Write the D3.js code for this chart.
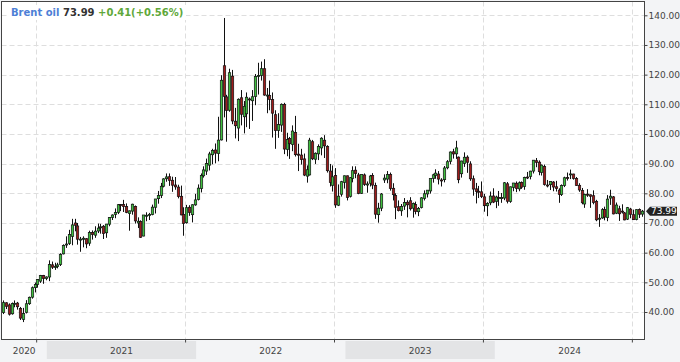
<!DOCTYPE html>
<html>
<head>
<meta charset="utf-8">
<script src="https://cdn.jsdelivr.net/npm/d3@7"></script>
<style>
  html, body { margin: 0; padding: 0; background: #f3f4f6; }
  svg { display: block; font-family: "DejaVu Sans", Verdana, sans-serif; }
</style>
</head>
<body>
<svg id="chart" width="680" height="362"></svg>
<script>
//---- Data (weekly candles: week start, open, high, low, close) ----------------------------------
var ohlc2020 = [
  ["2020-09-14", 39.8, 43.9, 39.3, 43.15], ["2020-09-21", 43.1, 43.3, 41.0, 41.92],
  ["2020-09-28", 42.4, 42.9, 38.8, 39.27], ["2020-10-05", 39.4, 43.2, 39.1, 42.85],
  ["2020-10-12", 42.7, 43.9, 41.6, 42.93], ["2020-10-19", 43.0, 43.4, 40.8, 41.77],
  ["2020-10-26", 41.2, 41.7, 37.3, 37.94], ["2020-11-02", 37.5, 41.4, 36.6, 39.45],
  ["2020-11-09", 39.9, 44.0, 39.5, 42.78], ["2020-11-16", 42.8, 45.2, 42.4, 44.96],
  ["2020-11-23", 45.0, 48.6, 44.5, 48.18], ["2020-11-30", 48.2, 49.9, 46.6, 49.25],
  ["2020-12-07", 49.3, 51.1, 48.2, 50.97], ["2020-12-14", 50.4, 52.5, 49.8, 52.26],
  ["2020-12-21", 52.3, 52.5, 49.5, 51.29], ["2020-12-28", 51.3, 52.0, 50.7, 51.80]
];
var ohlc2021 = [
  ["2021-01-04", 51.8, 57.4, 50.4, 55.99], ["2021-01-11", 55.9, 57.0, 54.5, 55.10],
  ["2021-01-18", 55.0, 56.6, 54.2, 55.41], ["2021-01-25", 55.3, 56.6, 54.7, 55.88],
  ["2021-02-01", 56.0, 59.8, 55.5, 59.34], ["2021-02-08", 59.6, 62.8, 59.4, 62.43],
  ["2021-02-15", 62.8, 65.5, 61.6, 62.91], ["2021-02-22", 63.1, 67.7, 62.6, 66.13],
  ["2021-03-01", 65.5, 71.4, 62.5, 69.36], ["2021-03-08", 70.0, 71.4, 67.2, 69.22],
  ["2021-03-15", 69.0, 70.0, 62.7, 64.53], ["2021-03-22", 64.4, 65.3, 60.3, 64.57],
  ["2021-03-29", 64.5, 65.5, 61.8, 64.86], ["2021-04-05", 64.7, 64.9, 61.5, 62.95],
  ["2021-04-12", 63.2, 67.4, 62.3, 66.77], ["2021-04-19", 66.8, 67.5, 64.4, 66.11],
  ["2021-04-26", 65.9, 68.9, 65.0, 67.25], ["2021-05-03", 67.3, 69.8, 66.6, 68.28],
  ["2021-05-10", 68.4, 69.7, 66.4, 68.71], ["2021-05-17", 68.9, 69.3, 64.6, 66.44],
  ["2021-05-24", 66.7, 69.6, 65.0, 69.63], ["2021-05-31", 69.6, 72.0, 68.9, 71.89],
  ["2021-06-07", 71.9, 72.9, 71.0, 72.69], ["2021-06-14", 72.9, 74.9, 71.6, 73.51],
  ["2021-06-21", 73.6, 76.4, 73.0, 76.18], ["2021-06-28", 76.2, 76.4, 74.0, 76.17],
  ["2021-07-05", 76.2, 77.8, 73.7, 75.55], ["2021-07-12", 75.6, 76.6, 73.3, 73.59],
  ["2021-07-19", 73.2, 74.2, 67.4, 74.10], ["2021-07-26", 74.0, 76.5, 72.8, 76.33],
  ["2021-08-02", 75.6, 75.9, 69.8, 70.70], ["2021-08-09", 70.0, 71.9, 68.3, 70.59],
  ["2021-08-16", 70.5, 70.9, 65.0, 65.18], ["2021-08-23", 65.6, 72.3, 65.5, 72.70],
  ["2021-08-30", 72.6, 73.6, 70.6, 72.61], ["2021-09-06", 72.5, 73.4, 71.0, 72.92],
  ["2021-09-13", 72.9, 76.2, 72.6, 75.34], ["2021-09-20", 75.3, 78.1, 73.2, 78.09],
  ["2021-09-27", 78.2, 80.8, 76.5, 79.28], ["2021-10-04", 79.3, 83.5, 78.4, 82.39],
  ["2021-10-11", 82.4, 85.1, 82.0, 84.86], ["2021-10-18", 84.9, 86.7, 83.9, 85.53],
  ["2021-10-25", 85.6, 86.7, 82.5, 84.38], ["2021-11-01", 84.4, 85.6, 80.5, 82.74],
  ["2021-11-08", 82.8, 85.5, 81.2, 82.17], ["2021-11-15", 82.1, 82.9, 78.3, 78.89],
  ["2021-11-22", 79.0, 82.6, 72.6, 72.72], ["2021-11-29", 72.9, 75.3, 65.7, 69.88],
  ["2021-12-06", 70.1, 76.1, 69.8, 75.15], ["2021-12-13", 75.3, 76.0, 72.4, 73.52],
  ["2021-12-20", 72.8, 76.3, 70.2, 76.14], ["2021-12-27", 76.1, 79.8, 75.8, 77.78]
];
var ohlc2022 = [
  ["2022-01-03", 77.9, 83.0, 77.6, 81.75], ["2022-01-10", 81.6, 86.7, 80.3, 86.06],
  ["2022-01-17", 85.9, 89.1, 85.3, 87.89], ["2022-01-24", 87.5, 91.7, 86.2, 90.03],
  ["2022-01-31", 89.5, 94.0, 87.7, 93.27], ["2022-02-07", 93.0, 95.0, 89.8, 94.44],
  ["2022-02-14", 94.6, 96.8, 90.1, 93.54], ["2022-02-21", 93.4, 105.8, 90.8, 97.93],
  ["2022-02-28", 98.0, 119.8, 97.8, 118.11], ["2022-03-07", 123.0, 139.1, 105.6, 112.67],
  ["2022-03-14", 112.5, 113.2, 97.4, 107.93], ["2022-03-21", 108.0, 122.0, 107.5, 120.65],
  ["2022-03-28", 119.5, 121.6, 103.3, 104.39], ["2022-04-04", 104.3, 108.8, 98.5, 102.78],
  ["2022-04-11", 102.0, 112.0, 97.6, 111.70], ["2022-04-18", 112.2, 114.8, 102.9, 106.65],
  ["2022-04-25", 105.8, 111.1, 100.2, 109.34], ["2022-05-02", 106.8, 114.0, 102.3, 112.39],
  ["2022-05-09", 111.8, 112.3, 101.7, 111.55], ["2022-05-16", 111.2, 114.8, 104.4, 112.55],
  ["2022-05-23", 112.6, 120.2, 109.7, 119.43], ["2022-05-30", 119.4, 124.0, 113.3, 119.72],
  ["2022-06-06", 119.7, 124.4, 118.0, 122.01], ["2022-06-13", 122.0, 125.2, 112.9, 113.12],
  ["2022-06-20", 113.0, 115.5, 107.0, 113.12], ["2022-06-27", 113.0, 118.0, 108.0, 111.63],
  ["2022-07-04", 111.6, 114.0, 98.8, 107.02], ["2022-07-11", 106.5, 108.0, 95.0, 101.16],
  ["2022-07-18", 101.2, 107.0, 98.7, 103.20], ["2022-07-25", 103.0, 110.3, 100.7, 110.01],
  ["2022-08-01", 110.0, 110.5, 93.2, 94.92], ["2022-08-08", 94.8, 100.4, 92.5, 98.15],
  ["2022-08-15", 98.5, 99.0, 91.6, 96.72], ["2022-08-22", 96.5, 102.9, 94.2, 100.99],
  ["2022-08-29", 100.5, 106.1, 92.4, 93.02], ["2022-09-05", 93.2, 96.7, 87.5, 92.84],
  ["2022-09-12", 92.9, 95.0, 89.7, 91.35], ["2022-09-19", 91.6, 93.4, 85.8, 86.15],
  ["2022-09-26", 85.8, 89.4, 83.6, 87.96], ["2022-10-03", 86.2, 98.7, 86.0, 97.92],
  ["2022-10-10", 97.4, 98.0, 91.2, 91.63], ["2022-10-17", 91.5, 93.8, 89.9, 93.50],
  ["2022-10-24", 93.3, 96.5, 91.2, 95.77], ["2022-10-31", 95.3, 98.9, 92.8, 98.57],
  ["2022-11-07", 97.9, 99.6, 91.9, 95.99], ["2022-11-14", 95.8, 96.2, 87.0, 87.62],
  ["2022-11-21", 87.5, 89.9, 82.3, 83.63], ["2022-11-28", 82.7, 89.4, 80.6, 85.57],
  ["2022-12-05", 86.0, 88.5, 75.1, 76.10], ["2022-12-12", 76.0, 83.0, 75.7, 79.04],
  ["2022-12-19", 79.7, 84.2, 78.9, 83.92], ["2022-12-26", 83.7, 86.0, 81.6, 85.91]
];
var ohlc2023 = [
  ["2023-01-02", 85.9, 86.0, 77.6, 78.57], ["2023-01-09", 79.0, 85.5, 78.6, 85.28],
  ["2023-01-16", 85.0, 89.1, 83.7, 87.63], ["2023-01-23", 87.8, 89.1, 85.1, 86.66],
  ["2023-01-30", 86.2, 86.9, 79.7, 79.94], ["2023-02-06", 80.0, 86.4, 79.8, 86.39],
  ["2023-02-13", 86.2, 86.7, 82.5, 83.00], ["2023-02-20", 82.8, 84.0, 80.2, 83.16],
  ["2023-02-27", 83.4, 86.2, 82.3, 85.83], ["2023-03-06", 86.0, 86.8, 81.4, 82.78],
  ["2023-03-13", 82.6, 83.6, 71.4, 72.97], ["2023-03-20", 72.8, 76.8, 70.1, 74.99],
  ["2023-03-27", 75.0, 80.1, 74.0, 79.77], ["2023-04-03", 84.5, 86.4, 83.5, 85.12],
  ["2023-04-10", 84.8, 87.5, 83.4, 86.31], ["2023-04-17", 86.3, 87.0, 80.9, 81.66],
  ["2023-04-24", 81.7, 83.4, 77.6, 79.54], ["2023-05-01", 79.3, 80.0, 71.3, 75.30],
  ["2023-05-08", 75.5, 77.6, 73.9, 74.17], ["2023-05-15", 74.1, 76.4, 72.4, 75.58],
  ["2023-05-22", 75.7, 78.4, 74.4, 76.95], ["2023-05-29", 77.0, 77.7, 71.9, 76.13],
  ["2023-06-05", 77.5, 78.7, 74.2, 74.79], ["2023-06-12", 75.0, 76.9, 71.8, 76.61],
  ["2023-06-19", 76.2, 77.2, 72.9, 73.85], ["2023-06-26", 73.8, 75.4, 72.3, 74.90],
  ["2023-07-03", 75.2, 78.7, 74.9, 78.47], ["2023-07-10", 78.3, 81.0, 77.6, 79.87],
  ["2023-07-17", 79.8, 81.1, 78.6, 81.07], ["2023-07-24", 80.8, 85.0, 79.9, 84.99],
  ["2023-07-31", 85.0, 86.6, 83.6, 86.24], ["2023-08-07", 86.0, 88.1, 84.9, 86.81],
  ["2023-08-14", 86.5, 87.5, 83.0, 84.80], ["2023-08-21", 84.5, 85.1, 82.3, 84.48],
  ["2023-08-28", 84.6, 89.2, 83.7, 88.55], ["2023-09-04", 88.6, 91.2, 88.1, 90.65],
  ["2023-09-11", 90.8, 94.1, 89.8, 93.93], ["2023-09-18", 94.0, 95.0, 91.7, 93.27],
  ["2023-09-25", 93.3, 97.7, 91.6, 95.31], ["2023-10-02", 92.2, 92.4, 83.4, 84.58],
  ["2023-10-09", 86.6, 91.0, 85.3, 90.89], ["2023-10-16", 90.1, 93.8, 88.9, 92.16],
  ["2023-10-23", 92.2, 92.8, 86.9, 90.48], ["2023-10-30", 89.9, 90.8, 84.2, 84.89],
  ["2023-11-06", 84.9, 86.0, 79.2, 81.43], ["2023-11-13", 81.5, 83.5, 76.6, 80.61],
  ["2023-11-20", 80.7, 82.5, 78.4, 80.58], ["2023-11-27", 80.5, 84.0, 78.4, 78.88],
  ["2023-12-04", 78.8, 79.8, 73.8, 75.84], ["2023-12-11", 75.8, 77.0, 72.3, 76.55],
  ["2023-12-18", 76.8, 80.6, 76.0, 79.07], ["2023-12-25", 79.1, 81.7, 76.7, 77.04]
];
var ohlc2024 = [
  ["2024-01-01", 77.3, 79.2, 75.0, 78.76], ["2024-01-08", 78.6, 80.8, 75.8, 78.29],
  ["2024-01-15", 78.2, 80.1, 76.8, 78.56], ["2024-01-22", 78.4, 83.8, 77.7, 83.55],
  ["2024-01-29", 83.2, 83.8, 76.6, 77.33], ["2024-02-05", 77.3, 82.3, 76.8, 82.19],
  ["2024-02-12", 82.0, 83.5, 80.7, 83.47], ["2024-02-19", 83.4, 84.0, 80.4, 81.62],
  ["2024-02-26", 81.5, 84.0, 80.7, 83.55], ["2024-03-04", 83.7, 84.0, 81.5, 82.08],
  ["2024-03-11", 82.3, 85.6, 81.2, 85.34], ["2024-03-18", 85.5, 87.2, 84.8, 85.43],
  ["2024-03-25", 85.7, 87.6, 84.7, 87.48], ["2024-04-01", 87.5, 91.2, 86.7, 91.17],
  ["2024-04-08", 91.0, 91.9, 88.8, 90.45], ["2024-04-15", 90.5, 91.1, 86.1, 87.29],
  ["2024-04-22", 87.0, 89.7, 86.0, 89.50], ["2024-04-29", 89.0, 89.7, 82.6, 82.96],
  ["2024-05-06", 82.8, 84.5, 82.0, 82.79], ["2024-05-13", 82.9, 84.0, 81.1, 83.98],
  ["2024-05-20", 83.8, 84.1, 80.7, 82.12], ["2024-05-27", 82.2, 84.2, 80.6, 81.62],
  ["2024-06-03", 81.1, 81.7, 76.8, 79.62], ["2024-06-10", 79.6, 83.0, 79.1, 82.62],
  ["2024-06-17", 82.6, 85.6, 82.1, 85.24], ["2024-06-24", 85.3, 87.0, 84.3, 85.00],
  ["2024-07-01", 86.5, 88.0, 84.8, 86.54], ["2024-07-08", 86.5, 86.6, 84.6, 85.03],
  ["2024-07-15", 85.0, 85.5, 82.5, 82.63], ["2024-07-22", 82.7, 83.4, 80.5, 81.13],
  ["2024-07-29", 80.9, 81.8, 76.3, 76.81], ["2024-08-05", 76.4, 79.9, 75.1, 79.66],
  ["2024-08-12", 79.7, 81.4, 78.8, 79.68], ["2024-08-19", 79.5, 79.6, 75.1, 79.02],
  ["2024-08-26", 79.2, 81.0, 76.3, 76.93], ["2024-09-02", 77.3, 77.8, 70.6, 71.06],
  ["2024-09-09", 71.5, 73.0, 68.7, 71.61], ["2024-09-16", 71.7, 75.0, 71.4, 74.49],
  ["2024-09-23", 74.6, 75.5, 70.9, 71.98], ["2024-09-30", 71.8, 79.4, 70.6, 78.05],
  ["2024-10-07", 78.4, 81.2, 76.1, 79.04], ["2024-10-14", 78.8, 79.1, 72.9, 73.06],
  ["2024-10-21", 73.3, 76.9, 73.0, 76.05], ["2024-10-28", 74.8, 75.8, 70.7, 73.10],
  ["2024-11-04", 74.0, 76.3, 73.2, 73.87], ["2024-11-11", 73.4, 73.7, 70.9, 71.04],
  ["2024-11-18", 71.3, 75.4, 71.0, 75.17], ["2024-11-25", 74.7, 75.1, 71.6, 72.94],
  ["2024-12-02", 72.8, 74.5, 71.0, 71.12], ["2024-12-09", 71.2, 74.6, 70.9, 74.49],
  ["2024-12-16", 74.5, 74.9, 71.7, 72.94], ["2024-12-23", 73.0, 74.4, 72.1, 73.99]
];

var priceTicks = [40, 50, 60, 70, 80, 90, 100, 110, 120, 130, 140];
var yearLabels = ["2020", "2021", "2022", "2023", "2024"];
var yearTickDates = ["2020-12-06", "2021-12-05", "2022-12-04", "2023-12-03", "2024-12-01"];
var shadedYears = ["2021", "2023"];
var instrument = "Brent oil", lastPrice = "73.99", change = "+0.41(+0.56%)";

//---- Setup --------------------------------------------------------------------------------------
var parse = d3.timeParse("%Y-%m-%d");
var candles = [].concat(ohlc2020, ohlc2021, ohlc2022, ohlc2023, ohlc2024).map(function (r) {
  return { date: d3.timeDay.offset(parse(r[0]), 2), open: r[1], high: r[2], low: r[3], close: r[4] };
});

var plot = { left: 1.5, top: 1.5, right: 644.5, bottom: 339.5 };

var svg = d3.select("#chart");
var x = d3.scaleTime()
  .domain([parse("2021-01-01"), parse("2024-01-01")])
  .range([46.8, 494.8]);
var y = d3.scaleLinear().domain([40, 140]).range([312, 15.3]);

svg.append("rect").attr("width", 680).attr("height", 362).attr("fill", "#f3f4f6");

// shaded year bands under the axis
var yearSpan = function (yr) {
  var a = Math.max(x(parse(yr + "-01-01")), plot.left);
  var b = Math.min(x(parse((+yr + 1) + "-01-01")), plot.right);
  return [a, b];
};
svg.append("g").selectAll("rect")
  .data(shadedYears)
  .enter().append("rect")
  .attr("x", function (d) { return yearSpan(d)[0]; })
  .attr("width", function (d) { return yearSpan(d)[1] - yearSpan(d)[0]; })
  .attr("y", 341).attr("height", 18)
  .attr("fill", "#e3e4e6");

svg.append("g").selectAll("text")
  .data(yearLabels)
  .enter().append("text")
  .attr("x", function (d) { var s = yearSpan(d); return (s[0] + s[1]) / 2; })
  .attr("y", 353.5)
  .attr("text-anchor", "middle")
  .attr("font-size", 9)
  .attr("fill", "#444")
  .text(function (d) { return d; });

// plot area
svg.append("rect")
  .attr("x", plot.left).attr("y", plot.top)
  .attr("width", plot.right - plot.left).attr("height", plot.bottom - plot.top)
  .attr("fill", "#fff");

// grid
var tickDates = yearTickDates.map(parse);
svg.append("g").selectAll("line")
  .data(priceTicks)
  .enter().append("line")
  .attr("x1", plot.left).attr("x2", plot.right)
  .attr("y1", function (d) { return Math.round(y(d)) + 0.5; })
  .attr("y2", function (d) { return Math.round(y(d)) + 0.5; })
  .attr("stroke", "#dedede").attr("stroke-dasharray", "5,3");
svg.append("g").selectAll("line")
  .data(tickDates)
  .enter().append("line")
  .attr("x1", function (d) { return Math.round(x(d)) + 0.5; })
  .attr("x2", function (d) { return Math.round(x(d)) + 0.5; })
  .attr("y1", plot.top).attr("y2", plot.bottom)
  .attr("stroke", "#dedede").attr("stroke-dasharray", "5,3");

// candles
var cg = svg.append("g");
cg.selectAll("line")
  .data(candles)
  .enter().append("line")
  .attr("x1", function (d) { return Math.round(x(d.date)) + 0.5; })
  .attr("x2", function (d) { return Math.round(x(d.date)) + 0.5; })
  .attr("y1", function (d) { return y(d.high); })
  .attr("y2", function (d) { return y(d.low); })
  .attr("stroke", "#111").attr("stroke-width", 1);
cg.selectAll("rect")
  .data(candles)
  .enter().append("rect")
  .attr("x", function (d) { return Math.round(x(d.date)) - 0.7; })
  .attr("width", 2.4)
  .attr("y", function (d) { return y(Math.max(d.open, d.close)); })
  .attr("height", function (d) { return Math.max(1, Math.abs(y(d.open) - y(d.close))); })
  .attr("fill", function (d) { return d.close >= d.open ? "#3fbf3f" : "#9e1b1b"; })
  .attr("stroke", "#111").attr("stroke-width", 0.7);

// border
svg.append("rect")
  .attr("x", plot.left).attr("y", plot.top)
  .attr("width", plot.right - plot.left).attr("height", plot.bottom - plot.top)
  .attr("fill", "none").attr("stroke", "#444");

// right axis
var yAxis = d3.axisRight(y).tickValues(priceTicks).tickFormat(d3.format(".2f")).tickSize(3).tickPadding(1);
var ya = svg.append("g").attr("transform", "translate(" + plot.right + ",0)").call(yAxis);
ya.select(".domain").remove();
ya.selectAll("line").attr("stroke", "#444");
ya.selectAll("text").attr("font-size", 9).attr("fill", "#444").attr("font-family", "DejaVu Sans");

// bottom axis ticks
var xAxis = d3.axisBottom(x).tickValues(tickDates).tickSize(3).tickFormat("");
var xa = svg.append("g").attr("transform", "translate(0," + plot.bottom + ")").call(xAxis);
xa.select(".domain").remove();
xa.selectAll("line").attr("stroke", "#444");

// last price tag
var ly = y(+lastPrice);
svg.append("path")
  .attr("d", "M646," + ly + "L650," + (ly - 4.5) + "H677V" + (ly + 4.5) + "H650Z")
  .attr("fill", "#222");
svg.append("text")
  .attr("x", 651).attr("y", ly + 3.3)
  .attr("font-size", 9).attr("fill", "#fff")
  .text(lastPrice);

// legend
svg.append("rect").attr("x", 8).attr("y", 5).attr("width", 178).attr("height", 15).attr("fill", "#fff");
var lg = svg.append("text").attr("x", 11).attr("y", 16).attr("font-size", 10).attr("font-weight", "bold");
lg.append("tspan").attr("fill", "#4d7fd6").text(instrument);
lg.append("tspan").attr("fill", "#333").text(" " + lastPrice);
lg.append("tspan").attr("fill", "#5fa83a").text(" " + change);
</script>
</body>
</html>
